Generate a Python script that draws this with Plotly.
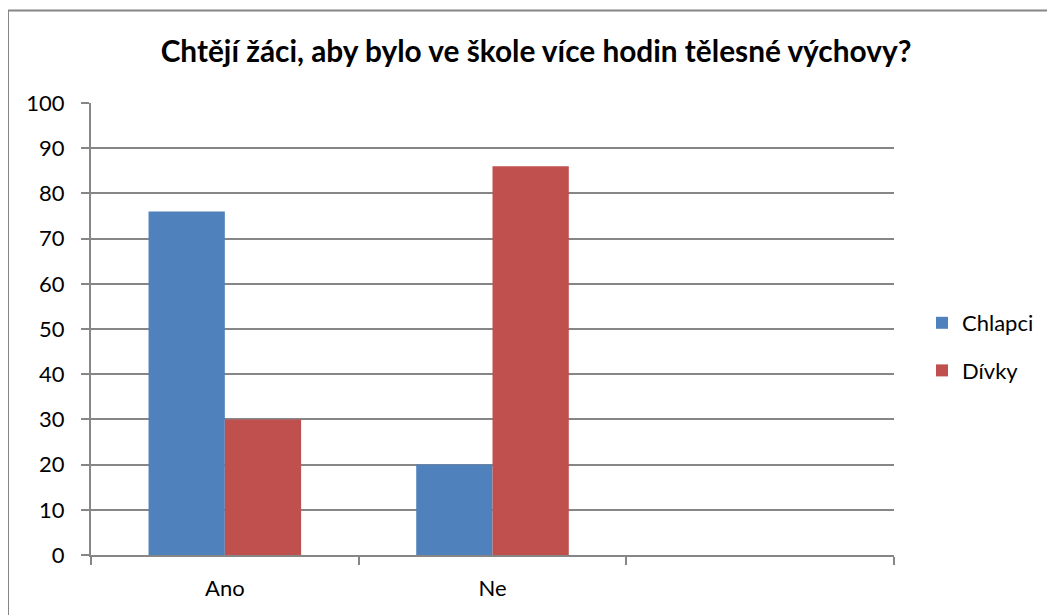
import plotly.graph_objects as go

categories = ["Ano", "Ne", " "]
chlapci = [76, 20, None]
divky = [30, 86, None]
y_ticks = [0, 10, 20, 30, 40, 50, 60, 70, 80, 90, 100]

FONT = "Lato"
GRAY = "#868686"
OFF = 8  # page body margin

fig = go.Figure()
fig.add_trace(go.Bar(name="Chlapci", x=categories, y=chlapci,
                     marker=dict(color="#4F81BD", line=dict(width=0)),
                     legendgroup="a"))
fig.add_trace(go.Bar(name="Dívky", x=categories, y=divky,
                     marker=dict(color="#C0504D", line=dict(width=0)),
                     legendgroup="b"))

W, H = 1055 - OFF, 615 - OFF
L, T = 91 - OFF, 103 - OFF
R = W - (894 - OFF)
B = H - (555 - OFF)
pw, ph = W - L - R, H - T - B

def px_x(p):
    return (p - OFF - L) / pw

def px_y(p):
    return (H - B - (p - OFF)) / ph

fig.update_layout(
    width=W, height=H,
    margin=dict(l=L, r=R, t=T, b=B, autoexpand=False),
    paper_bgcolor="white", plot_bgcolor="white",
    barmode="group", bargap=0.43, bargroupgap=0,
    font=dict(family=FONT, size=22, color="black"),
    title=dict(text="<b>Chtějí žáci, aby bylo ve škole více hodin tělesné výchovy?</b>",
               x=(536 - OFF) / W, xanchor="center", y=1 - (52 - OFF) / H, yanchor="middle",
               font=dict(family=FONT, size=29.8, color="black")),
    showlegend=True,
    legend=dict(x=px_x(922), xanchor="left", y=px_y(302), yanchor="top",
                font=dict(family=FONT, size=22), tracegroupgap=16,
                bgcolor="rgba(0,0,0,0)", itemwidth=30),
    xaxis=dict(type="category", categoryorder="array", categoryarray=categories,
               range=[-0.5, 2.5], showline=True, linecolor=GRAY, linewidth=2,
               ticks="outside", tickson="boundaries", ticklen=8, tickcolor=GRAY,
               tickwidth=2, showgrid=False, ticklabelstandoff=13,
               tickfont=dict(family=FONT, size=22)),
    yaxis=dict(range=[0, 100], tickvals=y_ticks, showline=True, linecolor=GRAY,
               linewidth=2, ticks="outside", ticklen=8, tickcolor=GRAY, tickwidth=2,
               showgrid=True, gridcolor=GRAY, gridwidth=2, zeroline=False,
               ticklabelstandoff=12, tickfont=dict(family=FONT, size=22)),
    shapes=[dict(type="rect", xref="paper", yref="paper",
                 x0=px_x(8), x1=px_x(1070), y0=px_y(630), y1=px_y(10.5),
                 line=dict(color=GRAY, width=2), fillcolor="rgba(0,0,0,0)",
                 layer="below")],
)

fig.write_html("out.html", config={"displayModeBar": False})
